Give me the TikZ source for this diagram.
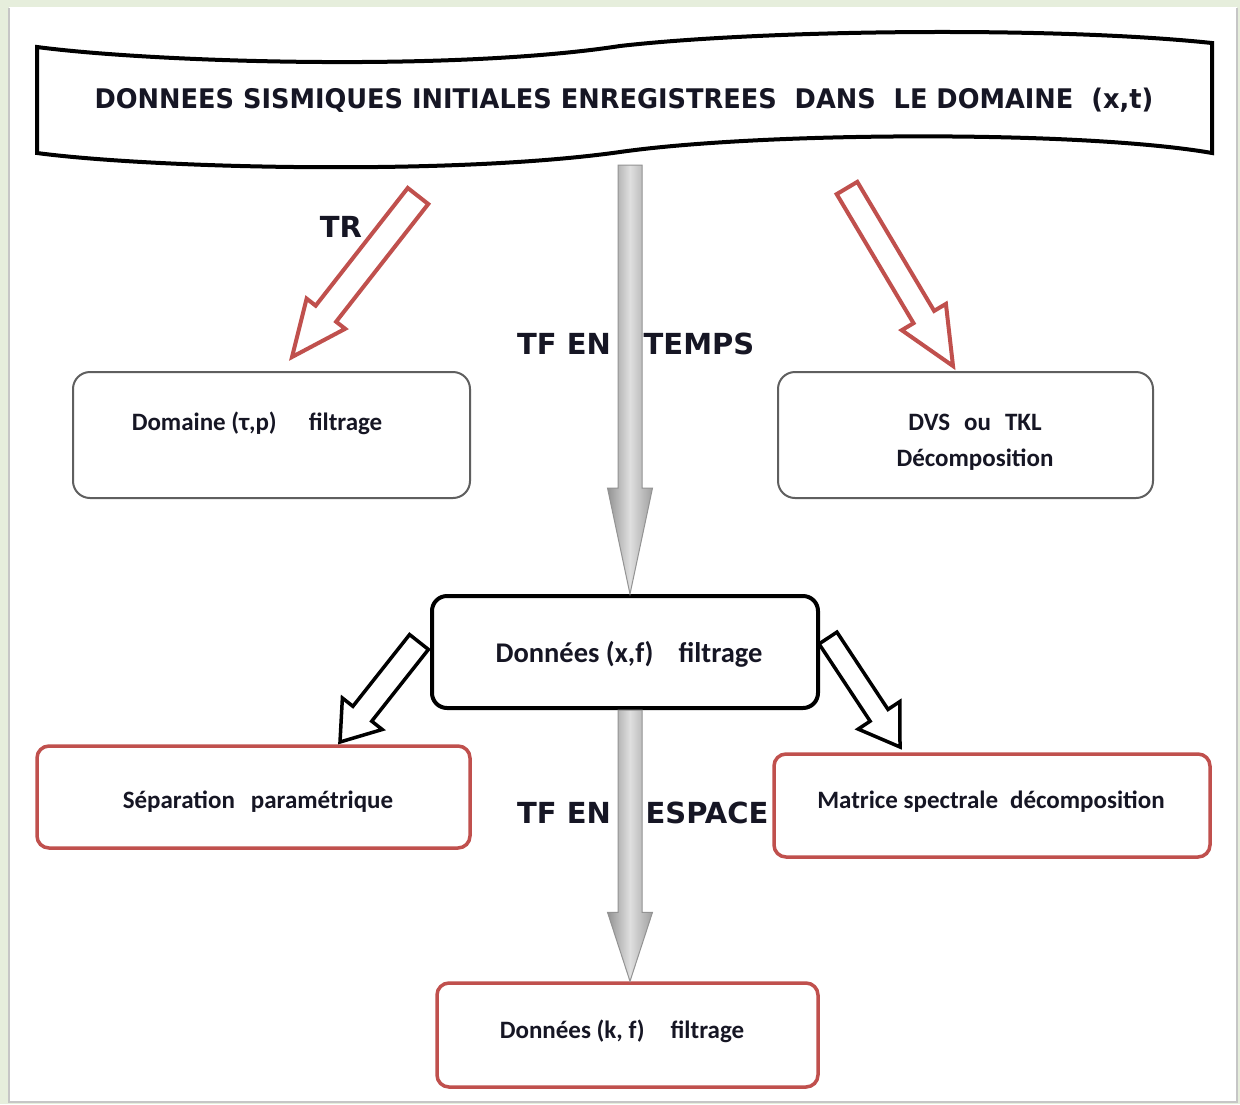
\documentclass[tikz,border=0pt]{standalone}
\usepackage{fontspec}
\setmainfont{Carlito}
\newfontfamily\hfont{DejaVu Sans}
\usetikzlibrary{calc}
\definecolor{redb}{RGB}{192,80,77}
\definecolor{txtc}{RGB}{22,22,36}
\definecolor{pagebg}{RGB}{230,238,220}
\definecolor{boxgray}{RGB}{95,95,95}
% #1 prefix, #2 style, #3 tail, #4 tip, #5 half shaft, #6 half head, #7 head length
\newcommand{\blockarrow}[7]{%
  \coordinate (#1-h) at ($(#4)!#7!(#3)$);
  \draw[#2] ($(#3)!#5!90:(#4)$) -- ($(#1-h)!#5!90:(#4)$) -- ($(#1-h)!#6!90:(#4)$)
    -- (#4) -- ($(#1-h)!#6!-90:(#4)$) -- ($(#1-h)!#5!-90:(#4)$) -- ($(#3)!#5!-90:(#4)$) -- cycle;}
% #1 start, #2 tip, #3 head length
\newcommand{\grayarrow}[3]{%
  \shadedraw[grayarr] ($(#1)+(-12,0)$) -- ($(#1)+(12,0)$) -- ($(#2)+(12,-#3)$) -- ($(#2)+(22.5,-#3)$)
    -- (#2) -- ($(#2)+(-22.5,-#3)$) -- ($(#2)+(-12,-#3)$) -- cycle;}
\begin{document}
\begin{tikzpicture}[x=1pt,y=-1pt,
  txt/.style={text=txtc, inner sep=0pt, anchor=base},
  body/.style={txt, font=\fontsize{25}{30}\selectfont\bfseries},
  lbl/.style={txt, font=\hfont\bfseries\fontsize{29}{34}\selectfont},
  graybox/.style={draw=boxgray, line width=2pt, rounded corners=17pt, inner sep=0pt},
  blackbox/.style={draw=black, line width=4pt, rounded corners=15pt, inner sep=0pt},
  redbox/.style={draw=redb, line width=3.5pt, rounded corners=12pt, inner sep=0pt},
  redarrow/.style={draw=redb, line width=4pt, fill=white, line join=miter},
  blackarrow/.style={draw=black, line width=3.5pt, fill=white, line join=miter},
  grayarr/.style={draw=gray!85, line width=1pt, left color=gray!85, right color=gray!75, middle color=gray!25}
]
\useasboundingbox (0,0) rectangle (1240,1104);
% page
\fill[pagebg] (0,0) rectangle (1240,1104);
\fill[white] (9,7) rectangle (1237,1102);
\draw[gray!45, line width=2pt] (9,8) -- (9,1102) -- (1237,1102) -- (1237,8);

% banner
\draw[line width=4pt, fill=white, line join=miter]
  (37,47) .. controls (150,62) and (450,72) .. (620,46)
  .. controls (760,30) and (1050,26) .. (1212,43) -- (1212,153)
  .. controls (1080,130) and (760,132) .. (620,152)
  .. controls (450,176) and (150,168) .. (37,153) -- cycle;
\node[txt, font=\hfont\bfseries\fontsize{27}{32}\selectfont] (hdr) at (624,108)
  {\scalebox{0.95}[1]{DONNEES SISMIQUES INITIALES ENREGISTREES\ \ DANS\ \ LE DOMAINE\ \ (x,t)}};

% boxes
\node[graybox, minimum width=397pt, minimum height=126pt] (dom) at (271.5,435) {};
\node[graybox, minimum width=375pt, minimum height=126pt] (dvs) at (965.5,435) {};
\node[blackbox, minimum width=386pt, minimum height=112pt] (xf) at (625,652) {};
\node[redbox, minimum width=433pt, minimum height=102pt] (sep) at (253.5,797) {};
\node[redbox, minimum width=436pt, minimum height=103pt] (mat) at (992,805.5) {};
\node[redbox, minimum width=381pt, minimum height=104pt] (kf) at (627.5,1035) {};

% box texts
\node[body] (domt) at (257,430) {Domaine (τ,p)\hspace{32pt}filtrage};
\node[body] (dvs1) at (975,430) {DVS\hspace{14pt}ou\hspace{14pt}TKL};
\node[body] (dvs2) at (975,466) {Décomposition};
\node[body, font=\fontsize{28.5}{33}\selectfont\bfseries] (xft) at (629,662) {Données (x,f)\hspace{25pt}filtrage};
\node[body] (sept) at (258,808) {Séparation\hspace{16pt}paramétrique};
\node[body] (matt) at (991,808) {Matrice spectrale\hspace{12pt}décomposition};
\node[body] (kft) at (622,1038) {Données (k, f)\hspace{26pt}filtrage};

% gray arrows
\coordinate (g1s) at (630,165);
\coordinate (g1e) at (xf.north -| g1s);
\grayarrow{g1s}{g1e}{106}
\coordinate (g2s) at (xf.south -| g1s);
\coordinate (g2e) at (kf.north -| g1s);
\grayarrow{g2s}{g2e}{69}

% labels
\node[lbl] (tr) at (341,237) {TR};
\node[lbl] (tfe1) at (564,354) {TF EN};
\node[lbl] (tmp) at (699,354) {TEMPS};
\node[lbl] (tfe2) at (564,823) {TF EN};
\node[lbl] (esp) at (707,823) {ESPACE};

% hollow arrows
\coordinate (ra-s) at (418,196); \coordinate (ra-e) at (292,357);
\blockarrow{ra}{redarrow}{ra-s}{ra-e}{13pt}{24.5pt}{55pt}
\coordinate (rb-s) at (847,188); \coordinate (rb-e) at (953,366);
\blockarrow{rb}{redarrow}{rb-s}{rb-e}{12pt}{25.7pt}{57pt}
\coordinate (ba-s) at (419,642); \coordinate (ba-e) at (340,742);
\blockarrow{ba}{blackarrow}{ba-s}{ba-e}{12pt}{25.4pt}{36pt}
\coordinate (bb-s) at (828,638); \coordinate (bb-e) at (900,747);
\blockarrow{bb}{blackarrow}{bb-s}{bb-e}{10.7pt}{25pt}{38pt}
\end{tikzpicture}
\end{document}
